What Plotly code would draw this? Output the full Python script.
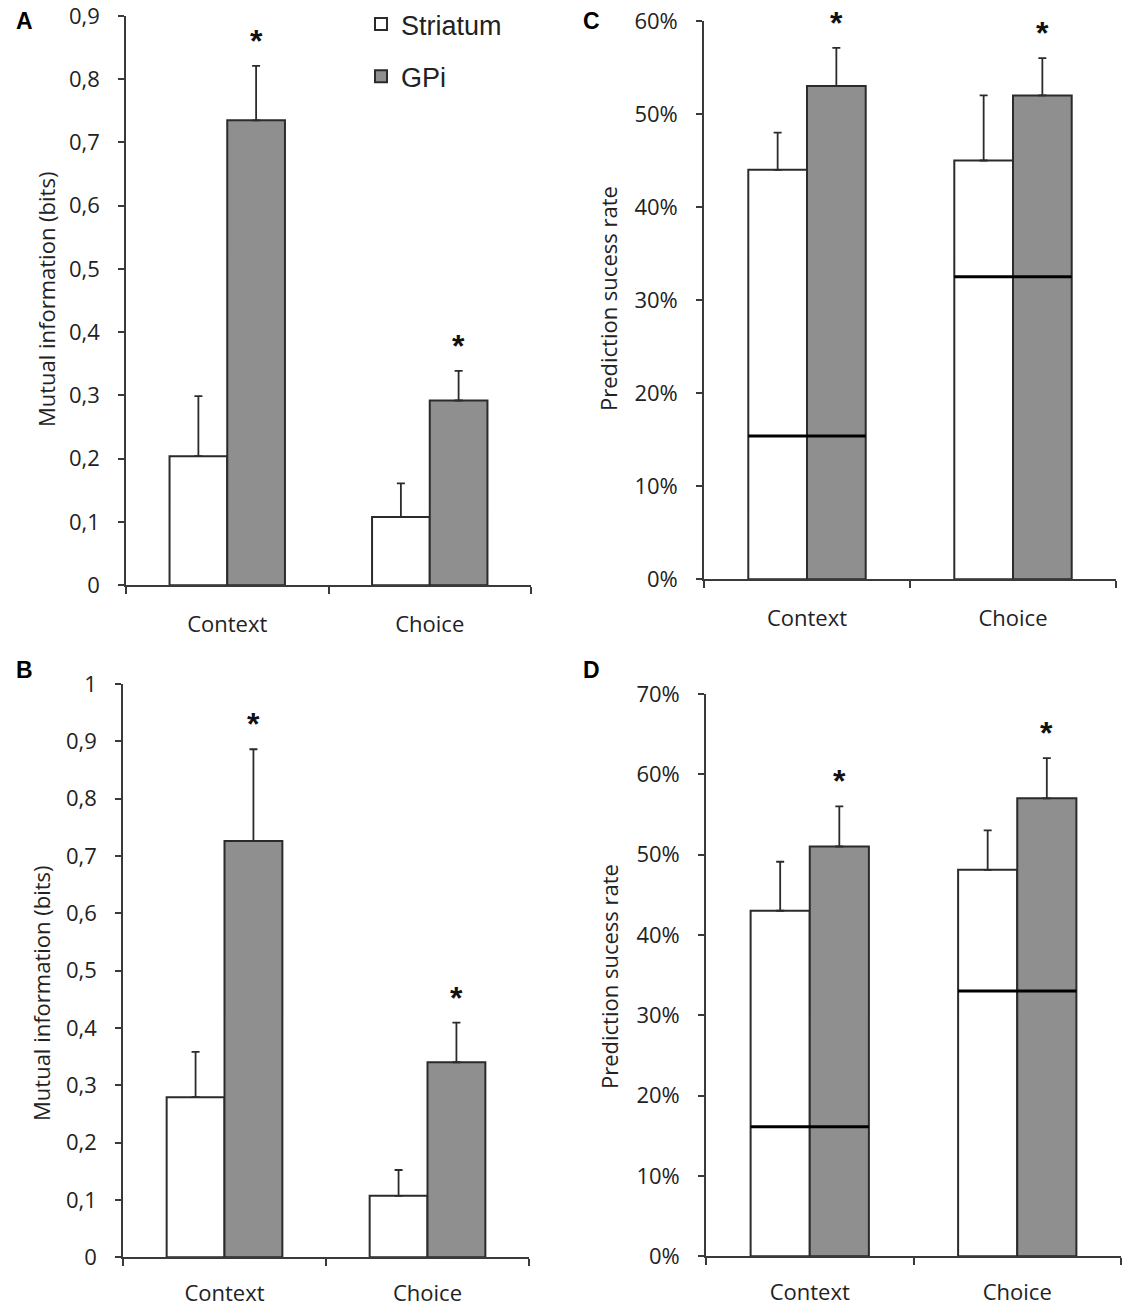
import plotly.graph_objects as go

# categories and values
categories = ["Context", "Choice"]

a_striatum = [0.204, 0.108]
a_striatum_err = [0.095, 0.053]
a_gpi = [0.735, 0.292]
a_gpi_err = [0.086, 0.047]

c_striatum = [0.44, 0.45]
c_striatum_err = [0.04, 0.07]
c_gpi = [0.53, 0.52]
c_gpi_err = [0.041, 0.04]
c_chance = [0.154, 0.325]

b_striatum = [0.279, 0.107]
b_striatum_err = [0.079, 0.045]
b_gpi = [0.726, 0.340]
b_gpi_err = [0.160, 0.069]

d_striatum = [0.43, 0.481]
d_striatum_err = [0.061, 0.049]
d_gpi = [0.51, 0.57]
d_gpi_err = [0.05, 0.05]
d_chance = [0.161, 0.33]

mi_ticks_a = [0, 0.1, 0.2, 0.3, 0.4, 0.5, 0.6, 0.7, 0.8, 0.9]
mi_labels_a = ["0", "0,1", "0,2", "0,3", "0,4", "0,5", "0,6", "0,7", "0,8", "0,9"]
mi_ticks_b = [0, 0.1, 0.2, 0.3, 0.4, 0.5, 0.6, 0.7, 0.8, 0.9, 1]
mi_labels_b = ["0", "0,1", "0,2", "0,3", "0,4", "0,5", "0,6", "0,7", "0,8", "0,9", "1"]

BARGAP = 0.43
INK = "#2b2b2b"
GREY = "#8f8f8f"
TICKFONT = dict(family="Open Sans", size=22, color="#222")

fig = go.Figure()

panels = [
    # (suffix, striatum, s_err, gpi, g_err, chance, show legend)
    ("", a_striatum, a_striatum_err, a_gpi, a_gpi_err, None, True),
    ("2", c_striatum, c_striatum_err, c_gpi, c_gpi_err, c_chance, False),
    ("3", b_striatum, b_striatum_err, b_gpi, b_gpi_err, None, False),
    ("4", d_striatum, d_striatum_err, d_gpi, d_gpi_err, d_chance, False),
]

for sfx, st, st_e, gp, gp_e, chance, leg in panels:
    xa, ya = "x" + sfx, "y" + sfx
    fig.add_trace(go.Bar(
        x=categories, y=st, name="Striatum", xaxis=xa, yaxis=ya,
        marker=dict(color="white", line=dict(color=INK, width=2)),
        error_y=dict(type="data", symmetric=False, array=st_e, arrayminus=[0, 0],
                     color=INK, thickness=1.8, width=4),
        showlegend=leg, legendgroup="s",
    ))
    fig.add_trace(go.Bar(
        x=categories, y=gp, name="GPi", xaxis=xa, yaxis=ya,
        marker=dict(color=GREY, line=dict(color=INK, width=2)),
        error_y=dict(type="data", symmetric=False, array=gp_e, arrayminus=[0, 0],
                     color=INK, thickness=1.8, width=4),
        showlegend=leg, legendgroup="g",
    ))
    half = (1 - BARGAP) / 2
    # significance stars above GPi bars
    for i in range(len(categories)):
        fig.add_annotation(
            x=i + half / 2, y=gp[i] + gp_e[i], xref=xa, yref=ya,
            text="<b>*</b>", showarrow=False, yanchor="bottom", yshift=5,
            font=dict(family="Liberation Sans", size=32, color="#111"),
        )
    # chance level lines
    if chance:
        for i in range(len(categories)):
            fig.add_shape(type="line", xref=xa, yref=ya,
                          x0=i - half, x1=i + half, y0=chance[i], y1=chance[i],
                          line=dict(color="#000", width=3))

axis_common = dict(showline=True, linecolor="#3a3a3a", linewidth=1.6, showgrid=False,
                   zeroline=False, ticks="outside", tickcolor="#3a3a3a", tickwidth=1.6,
                   tickfont=TICKFONT, automargin=False, ticklabeloverflow="allow")

W, H = 1122, 1308


def dom_x(l, r):
    return [l / W, r / W]


def dom_y(top, bottom):
    return [1 - bottom / H, 1 - top / H]


xaxis_common = dict(axis_common, tickson="boundaries", ticklen=7, range=[-0.5, 1.5],
                    type="category")
yaxis_common = dict(axis_common, ticklen=6, ticklabelstandoff=14)

fig.update_layout(
    width=W, height=H,
    margin=dict(l=0, r=0, t=0, b=0),
    plot_bgcolor="white", paper_bgcolor="white",
    barmode="group", bargap=BARGAP, bargroupgap=0,
    xaxis=dict(xaxis_common, domain=dom_x(126, 531), anchor="y", ticklabelstandoff=19),
    yaxis=dict(yaxis_common, domain=dom_y(12, 583), anchor="x", range=[0, 0.9],
               tickvals=mi_ticks_a, ticktext=mi_labels_a),
    xaxis2=dict(xaxis_common, domain=dom_x(704, 1116), anchor="y2", ticklabelstandoff=19),
    yaxis2=dict(yaxis_common, domain=dom_y(17, 577), anchor="x2", range=[0, 0.6],
                tickformat=".0%", dtick=0.1),
    xaxis3=dict(xaxis_common, domain=dom_x(123, 529), anchor="y3", ticklabelstandoff=16),
    yaxis3=dict(yaxis_common, domain=dom_y(682, 1257), anchor="x3", range=[0, 1],
                tickvals=mi_ticks_b, ticktext=mi_labels_b),
    xaxis4=dict(xaxis_common, domain=dom_x(706, 1121), anchor="y4", ticklabelstandoff=16),
    yaxis4=dict(yaxis_common, domain=dom_y(692, 1256), anchor="x4", range=[0, 0.7],
                tickformat=".0%", dtick=0.1),
    legend=dict(x=361 / W, y=1 + 4 / H, xanchor="left", yanchor="top",
                font=dict(family="Liberation Sans", size=27, color="#222"),
                tracegroupgap=14, bgcolor="rgba(0,0,0,0)"),
    showlegend=True,
)

# y-axis titles and panel letters
ytitles = [
    ("Mutual information (bits)", 46, 296),
    ("Prediction sucess rate", 608, 296),
    ("Mutual information (bits)", 41, 992),
    ("Prediction sucess rate", 609, 975),
]
for txt, px_, py_ in ytitles:
    fig.add_annotation(x=px_ / W, y=1 - py_ / H, xref="paper", yref="paper",
                       xanchor="center", yanchor="middle",
                       text=txt, textangle=-90, showarrow=False,
                       font=dict(family="Open Sans", size=22, color="#222"))

letters = [("A", 24, 17), ("C", 591, 17), ("B", 24, 668), ("D", 591, 668)]
for txt, px_, py_ in letters:
    fig.add_annotation(x=px_ / W, y=1 - py_ / H, xref="paper", yref="paper",
                       xanchor="center", yanchor="middle",
                       text="<b>" + txt + "</b>", showarrow=False,
                       font=dict(family="Liberation Sans", size=23, color="#000"))

# drop the default page margin so the figure sits at the window's corner
fig.write_html("out.html", config={"displayModeBar": False},
               post_script="document.body.style.margin='0';")
